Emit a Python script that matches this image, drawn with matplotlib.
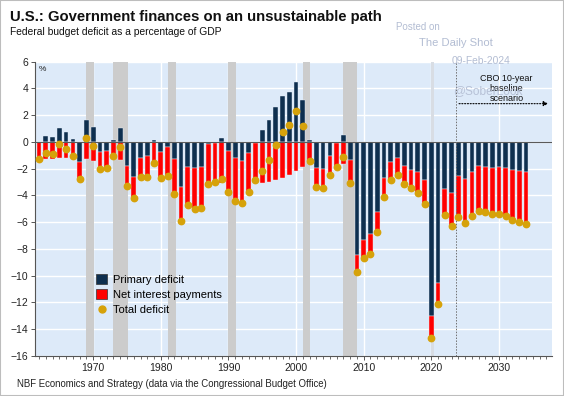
import matplotlib
matplotlib.use('Agg')
import matplotlib.pyplot as plt
from matplotlib.patches import Patch, Rectangle
from matplotlib.lines import Line2D

plt.rcParams['font.family'] = ['Liberation Sans', 'DejaVu Sans']

years = list(range(1962, 2035))

# Primary balance (% of GDP); negative = primary deficit
primary = [0.0, 0.47, 0.37, 1.0, 0.72, 0.2, -1.54, 1.61, 1.12, -0.74,
           -0.65, 0.17, 1.0, -1.84, -2.66, -1.19, -1.04, 0.1, -0.74, -0.35,
           -1.32, -3.35, -1.91, -1.94, -1.91, -0.2, -0.1, 0.32, -0.65, -1.24,
           -1.44, -0.82, -0.1, 0.9, 1.66, 2.6, 3.45, 3.75, 4.49, 3.1,
           0.1, -1.99, -2.06, -1.04, -0.12, 0.5, -1.36, -8.44, -7.32, -6.9,
           -5.26, -2.73, -1.49, -1.19, -1.84, -2.11, -2.23, -2.85, -13.0, -10.55,
           -3.55, -3.8, -2.53, -2.78, -2.23, -1.84, -1.91, -1.96, -1.91, -1.99,
           -2.11, -2.18, -2.23]

# Net interest payments (% of GDP)
interest = [1.27, 1.29, 1.29, 1.2, 1.24, 1.27, 1.26, 1.31, 1.42, 1.32,
            1.33, 1.26, 1.37, 1.49, 1.51, 1.47, 1.56, 1.71, 1.94, 2.23,
            2.55, 2.55, 2.8, 3.07, 3.0, 2.95, 2.9, 3.07, 3.12, 3.15,
            3.1, 2.93, 2.75, 3.1, 3.0, 2.87, 2.71, 2.46, 2.21, 1.91,
            1.56, 1.38, 1.41, 1.46, 1.74, 1.67, 1.74, 1.31, 1.39, 1.51,
            1.44, 1.39, 1.34, 1.27, 1.31, 1.36, 1.57, 1.77, 1.69, 1.53,
            1.88, 2.47, 3.05, 3.27, 3.33, 3.32, 3.35, 3.4, 3.45, 3.57,
            3.7, 3.82, 3.92]

# Total budget balance (% of GDP)
total = [-1.27, -0.82, -0.92, -0.2, -0.52, -1.07, -2.8, 0.3, -0.3, -2.06,
         -1.98, -1.09, -0.37, -3.33, -4.17, -2.66, -2.6, -1.61, -2.68, -2.58,
         -3.87, -5.9, -4.71, -5.01, -4.91, -3.15, -3.0, -2.75, -3.77, -4.39,
         -4.54, -3.75, -2.85, -2.2, -1.34, -0.27, 0.74, 1.29, 2.28, 1.19,
         -1.46, -3.37, -3.47, -2.5, -1.86, -1.17, -3.1, -9.75, -8.71, -8.41,
         -6.7, -4.12, -2.83, -2.46, -3.15, -3.47, -3.8, -4.62, -14.69, -12.08,
         -5.43, -6.27, -5.58, -6.05, -5.56, -5.16, -5.26, -5.36, -5.36, -5.56,
         -5.81, -6.0, -6.15]

recessions = [(1968.9, 1970.1), (1973.0, 1975.1), (1981.0, 1982.2),
              (1990.0, 1991.1), (2001.05, 2002.05), (2007.0, 2009.05),
              (2019.9, 2020.35)]

projection_start = 2023.6
x_ticks = [1970, 1980, 1990, 2000, 2010, 2020, 2030]
y_ticks = list(range(-16, 7, 2))

NAVY = '#0E2F4F'
RED = '#FF0000'
GOLD = '#D6A20A'
BG = '#DDEAF9'

fig = plt.figure(figsize=(5.64, 3.96), dpi=100)
ax = fig.add_axes([35 / 564, 1 - 356 / 396, (551.7 - 35) / 564, (356 - 61.5) / 396])
ax.set_facecolor(BG)
ax.set_xlim(1961.4, 2037.8)
ax.set_ylim(-16, 6)

for a, b in recessions:
    shade = '#CCCCCC' if b - a > 0.6 else '#D8DDE4'
    ax.axvspan(a, b, color=shade, lw=0, zorder=1)

ax.set_axisbelow(True)
ax.set_xticks(x_ticks)
ax.set_xticks(years + [2035, 2036, 2037], minor=True)
ax.set_yticks(y_ticks)
ax.grid(True, which='major', color='white', lw=1.0)

ax.bar(years, primary, width=0.7, color=NAVY, edgecolor='#E6EEF8', lw=0.3, zorder=3)
bottoms = [min(p, 0) for p in primary]
ax.bar(years, [-i for i in interest], bottom=bottoms, width=0.7, color=RED,
       edgecolor='#F4E6EA', lw=0.3, zorder=3)
ax.axhline(0, color='#5A5A5A', lw=0.8, zorder=4)
ax.plot(years, total, 'o', color=GOLD, ms=4.6, ls='none', zorder=5)

ax.axvline(projection_start, color='#707070', lw=0.7, ls=(0, (1.5, 1.5)), zorder=4)
ax.annotate('', xy=(2037.3, 2.85), xytext=(2024.1, 2.85),
            arrowprops=dict(arrowstyle='-|>', color='black', lw=0.8, ls=(0, (1, 1.5)),
                            mutation_scale=7, shrinkA=0, shrinkB=0), zorder=6)
ax.text(2031.1, 4.0, 'CBO 10-year\nbaseline\nscenario', ha='center', va='center',
        fontsize=6.5, linespacing=1.15, color='#111111', zorder=6)
ax.text(0.008, 0.972, '%', transform=ax.transAxes, fontsize=6, ha='left', va='center',
        color='#222222')

for s in ['top', 'right']:
    ax.spines[s].set_visible(False)
for s in ['left', 'bottom']:
    ax.spines[s].set_color('#555555')
    ax.spines[s].set_linewidth(0.8)
ax.tick_params(axis='both', which='major', direction='out', length=3, width=0.7,
               color='#555555', labelsize=7.5, labelcolor='#222222', pad=2)
ax.tick_params(axis='x', which='minor', direction='out', length=2.2, width=0.6,
               color='#555555')

handles = [Patch(facecolor=NAVY, edgecolor='#333333', lw=0.5),
           Patch(facecolor=RED, edgecolor='#333333', lw=0.5),
           Line2D([], [], marker='o', color=GOLD, ls='none', ms=5)]
labels = ['Primary deficit', 'Net interest payments', 'Total deficit']
ax.legend(handles, labels, loc='upper left', bbox_to_anchor=(0.118, 0.277),
          frameon=False, fontsize=8, handlelength=1.0, handleheight=1.0,
          handletextpad=0.5, labelspacing=0.38, borderaxespad=0, borderpad=0)

fig.text(10 / 564, 1 - 16.7 / 396, 'U.S.: Government finances on an unsustainable path',
         fontsize=10.7, fontweight='bold', ha='left', va='center', color='#111111')
fig.text(10 / 564, 1 - 32.3 / 396, 'Federal budget deficit as a percentage of GDP',
         fontsize=7.35, ha='left', va='center', color='#111111')
fig.text(17 / 564, 1 - 384 / 396,
         'NBF Economics and Strategy (data via the Congressional Budget Office)',
         fontsize=6.95, ha='left', va='center', color='#222222')

wm = '#B3BDD3'
fig.text(418 / 564, 1 - 26.7 / 396, 'Posted on', fontsize=7, color=wm, ha='center', va='center')
fig.text(456 / 564, 1 - 42.7 / 396, 'The Daily Shot', fontsize=8.1, color=wm, ha='center', va='center')
fig.text(481 / 564, 1 - 60.7 / 396, '09-Feb-2024', fontsize=7.4, color=wm, ha='center', va='center',
         zorder=10)
fig.text(488 / 564, 1 - 90.7 / 396, '@SoberLook', fontsize=8.6, color=wm, ha='center', va='center',
         alpha=0.9, zorder=10)

fig.patches.append(Rectangle((0, 0), 1, 1, transform=fig.transFigure, fill=False,
                             edgecolor='#BDBDBD', lw=1.5))

fig.savefig('out.png', dpi=100)
